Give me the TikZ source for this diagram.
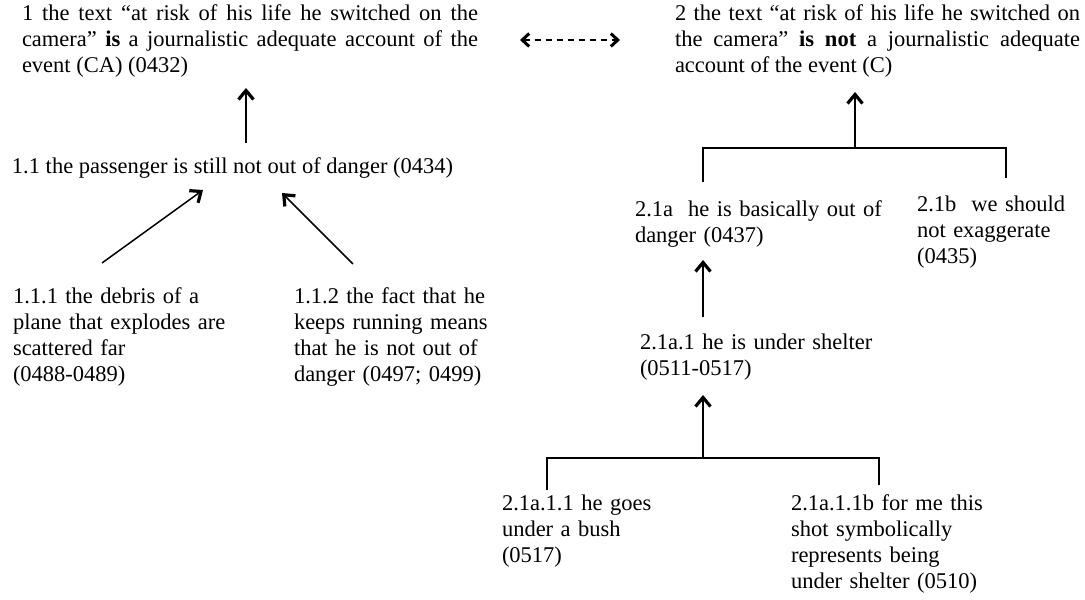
\documentclass[tikz,border=0pt]{standalone}
\usepackage{fontspec}
\setmainfont{Liberation Serif}
\usetikzlibrary{arrows.meta}
\tolerance=9999
\emergencystretch=20pt
\begin{document}
\begin{tikzpicture}[x=1pt,y=1pt,
  txt/.style={inner sep=0pt, outer sep=0pt, anchor=base west,
    font=\fontsize{22.5}{25.8}\selectfont},
  just/.style={txt, align=justify},
  rag/.style={txt, align=left},
  arr/.style={line width=1.5pt, -{Straight Barb[length=9pt,width=15pt,line width=3.2pt 0]}},
  bar/.style={line width=1.6pt},
  dsh/.style={line width=1.6pt, dash pattern=on 6pt off 5pt,
    {Straight Barb[length=7pt,width=13pt,line width=3pt 0]}-{Straight Barb[length=7pt,width=13pt,line width=3pt 0]}}]
\fill[white] (0,0) rectangle (1085,600);
\useasboundingbox (0,0) rectangle (1085,600);

\node[just, text width=456pt] (n1) at (22,579) {1 the text “at risk of his life he switched on the\linebreak camera” \textbf{is} a journalistic adequate account of the\linebreak event (CA) (0432)};
\node[just, text width=405pt] (n2) at (675,579) {2 the text “at risk of his life he switched on\linebreak the camera” \textbf{is not} a journalistic adequate\linebreak account of the event (C)};

\node[txt] (n11) at (12,426) {1.1 the passenger is still not out of danger (0434)};
\node[rag, text width=260pt] (n111) at (13,296) {1.1.1 the debris of a\\plane that explodes are\\scattered far\\(0488-0489)};
\node[rag, text width=260pt] (n112) at (294,296) {1.1.2 the fact that he\\keeps running means\\that he is not out of\\danger (0497; 0499)};

\node[rag, text width=270pt] (n21a) at (635,383) {2.1a\ \ he is basically out of\\danger (0437)};
\node[rag, text width=160pt] (n21b) at (917,388) {2.1b\ \ we should\\not exaggerate\\(0435)};
\node[rag, text width=260pt] (n21a1) at (640,250) {2.1a.1 he is under shelter\\(0511-0517)};
\node[rag, text width=250pt] (n21a11) at (502,89) {2.1a.1.1 he goes\\under a bush\\(0517)};
\node[rag, text width=250pt] (n21a11b) at (791,89) {2.1a.1.1b for me this\\shot symbolically\\represents being\\under shelter (0510)};

% left tree
\draw[arr] ([shift={(234,31)}]n11.base west) -- ([shift={(224,-67)}]n1.base west);
\draw[arr] ([shift={(89,41)}]n111.base west) -- ([shift={(191,-16)}]n11.base west);
\draw[arr] ([shift={(59,40)}]n112.base west) -- ([shift={(270,-19)}]n11.base west);

% dashed double arrow
\draw[dsh] ([shift={(42,-19)}]n1.base east) -- ([shift={(-55,-19)}]n2.base west);

% right tree
\coordinate (j1) at (855,452);
\draw[bar] ([shift={(68,35)}]n21a.base west) |- (j1) -| ([shift={(89,34)}]n21b.base west);
\draw[arr] (j1) -- ([shift={(180,-71)}]n2.base west);
\draw[arr] ([shift={(63,33)}]n21a1.base west) -- ([shift={(68,-43)}]n21a.base west);
\coordinate (j2) at (703,142);
\draw[bar] ([shift={(45,21)}]n21a11.base west) |- (j2) -| ([shift={(88,26)}]n21a11b.base west);
\draw[arr] (j2) -- ([shift={(63,-45)}]n21a1.base west);
\end{tikzpicture}
\end{document}
